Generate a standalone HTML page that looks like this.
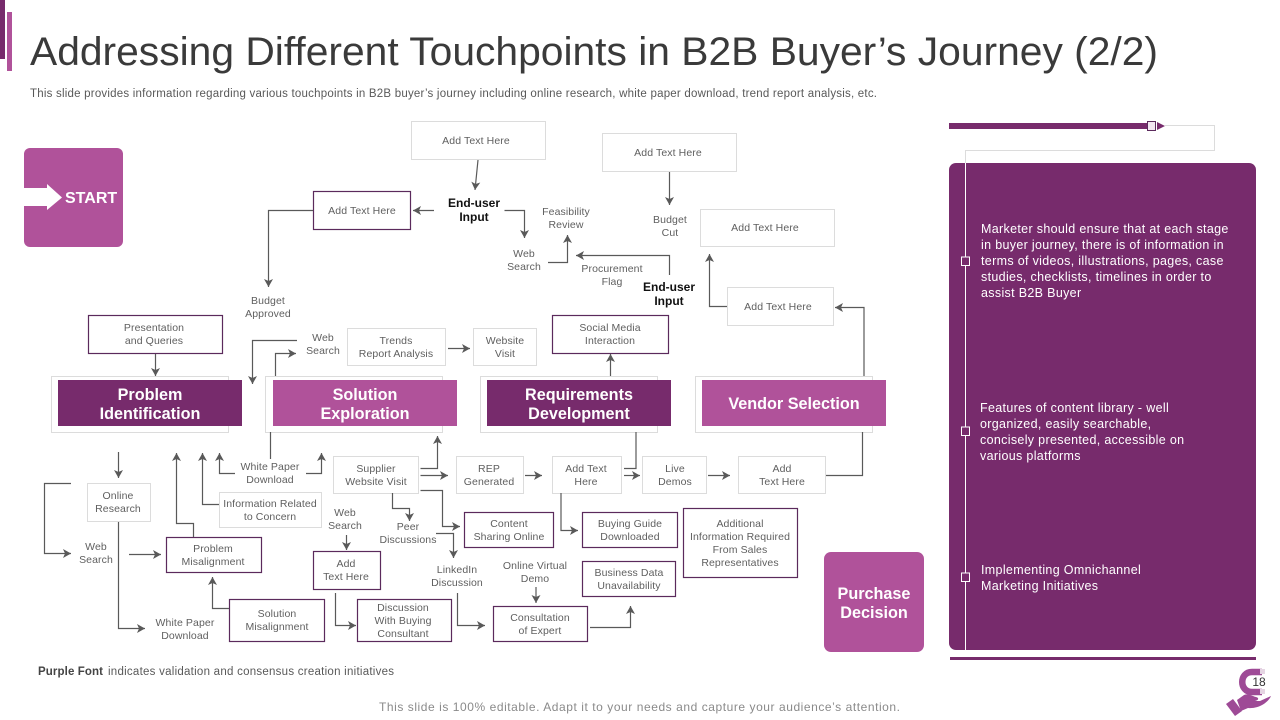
<!DOCTYPE html>
<html><head><meta charset="utf-8"><style>
html,body{margin:0;padding:0;background:#fff;width:1280px;height:720px;overflow:hidden}
svg{display:block;font-family:"Liberation Sans",sans-serif}
.t{font-size:10.5px;fill:#5f5f5f;text-anchor:middle;letter-spacing:.1px}
.b{font-size:12px;font-weight:bold;fill:#111;text-anchor:middle}
.h{font-size:16.2px;font-weight:bold;fill:#fff;text-anchor:middle}
.p{font-size:12.5px;fill:#fff;letter-spacing:.33px}
.g{fill:#fff;stroke:#dcdcdc;stroke-width:1}
.m{fill:#fff;stroke:#5b2a5c;stroke-width:1.2}
.l{fill:none;stroke:#595959;stroke-width:1.2}
.a{fill:none;stroke:#595959;stroke-width:1.2;marker-end:url(#ar)}
</style></head><body>
<svg width="1280" height="720" viewBox="0 0 1280 720" xmlns="http://www.w3.org/2000/svg">
<defs><marker id="ar" markerUnits="userSpaceOnUse" markerWidth="10" markerHeight="10" refX="9" refY="5" orient="auto"><path d="M1,0.5 L9,5 L1,9.5 L3,5 Z" fill="#595959"/></marker></defs>

<rect x="0" y="0" width="5" height="59" fill="#772b6c"/>
<rect x="7" y="12" width="5" height="59" fill="#b0529a"/>
<text x="30" y="65" font-size="40" fill="#3a3a3a" textLength="1128" lengthAdjust="spacingAndGlyphs">Addressing Different Touchpoints in B2B Buyer’s Journey (2/2)</text>
<text x="30" y="97" font-size="11.5" fill="#595959" textLength="847" lengthAdjust="spacing">This slide provides information regarding various touchpoints in B2B buyer’s journey including online research, white paper download, trend report analysis, etc.</text>

<!-- START -->
<rect x="24" y="148" width="99" height="99" rx="6" fill="#b0529a"/>
<path d="M24,188 H47 V184 L62,197.5 L47,210 V206 H24 Z" fill="#fff"/>
<text x="65" y="203" font-size="16" font-weight="bold" fill="#fff">START</text>

<!-- Stage boxes -->
<rect class="g" x="51.5" y="376.5" width="177" height="56"/>
<rect class="g" x="265.5" y="376.5" width="177" height="56"/>
<rect class="g" x="480.5" y="376.5" width="177" height="56"/>
<rect class="g" x="695.5" y="376.5" width="177" height="56"/>
<rect x="58" y="380" width="184" height="46" fill="#772b6c"/>
<rect x="273" y="380" width="184" height="46" fill="#b0529a"/>
<rect x="487" y="380" width="184" height="46" fill="#772b6c"/>
<rect x="702" y="380" width="184" height="46" fill="#b0529a"/>
<text class="h" x="150" y="400">Problem</text><text class="h" x="150" y="419">Identification</text>
<text class="h" x="365" y="400">Solution</text><text class="h" x="365" y="419">Exploration</text>
<text class="h" x="579" y="400">Requirements</text><text class="h" x="579" y="419">Development</text>
<text class="h" x="794" y="409">Vendor Selection</text>

<!-- Boxes: purple -->
<rect class="m" x="313.5" y="191.5" width="97" height="38"/>
<rect class="m" x="88.5" y="315.5" width="134" height="38"/>
<rect class="m" x="552.5" y="315.5" width="116" height="38"/>
<rect class="m" x="166.5" y="537.5" width="95" height="35"/>
<rect class="m" x="229.5" y="599.5" width="95" height="42"/>
<rect class="m" x="313.5" y="551.5" width="67" height="38"/>
<rect class="m" x="357.5" y="599.5" width="94" height="42"/>
<rect class="m" x="464.5" y="512.5" width="89" height="35"/>
<rect class="m" x="582.5" y="512.5" width="95" height="35"/>
<rect class="m" x="683.5" y="508.5" width="114" height="69"/>
<rect class="m" x="582.5" y="561.5" width="93" height="35"/>
<rect class="m" x="493.5" y="606.5" width="94" height="35"/>

<!-- Boxes: grey -->
<rect class="g" x="411.5" y="121.5" width="134" height="38"/>
<rect class="g" x="602.5" y="133.5" width="134" height="38"/>
<rect class="g" x="700.5" y="209.5" width="134" height="37"/>
<rect class="g" x="727.5" y="287.5" width="106" height="38"/>
<rect class="g" x="347.5" y="328.5" width="98" height="37"/>
<rect class="g" x="473.5" y="328.5" width="63" height="37"/>
<rect class="g" x="87.5" y="483.5" width="63" height="38"/>
<rect class="g" x="219.5" y="492.5" width="102" height="35"/>
<rect class="g" x="333.5" y="456.5" width="85" height="37"/>
<rect class="g" x="456.5" y="456.5" width="67" height="37"/>
<rect class="g" x="552.5" y="456.5" width="69" height="37"/>
<rect class="g" x="642.5" y="456.5" width="64" height="37"/>
<rect class="g" x="738.5" y="456.5" width="87" height="37"/>

<!-- Connectors -->
<path class="a" d="M313,210.5 H268.5 V287"/>
<path class="a" d="M155.5,354 V376"/>
<path class="a" d="M297,340.5 H252.5 V384"/>
<path class="a" d="M275.5,376 V353.5 H296"/>
<path class="a" d="M448,348.5 H470"/>
<path class="a" d="M610.5,376 V354"/>
<path class="a" d="M478,160 L475,190"/>
<path class="a" d="M434,210.5 H413"/>
<path class="a" d="M504.5,210.5 H524.5 V238"/>
<path class="a" d="M548,262.5 H567.5 V235"/>
<path class="a" d="M669.5,172 V205"/>
<path class="a" d="M669.5,275 V255.5 H576"/>
<path class="a" d="M727,306.5 H709.5 V254"/>
<path class="a" d="M864,376 V307.5 H835"/>
<path class="l" d="M826,475.5 H862.5 V432"/>
<path class="a" d="M118.5,452 V478"/>
<path class="a" d="M71,483.5 H44.5 V553.5 H71"/>
<path class="a" d="M129,554.5 H161"/>
<path class="a" d="M118.5,522 V628.5 H145"/>
<path class="a" d="M229,608.5 H212.5 V577"/>
<path class="a" d="M193.5,537 V523.5 H176.5 V453"/>
<path class="a" d="M219,504.5 H202.5 V453"/>
<path class="l" d="M270.5,432 V459"/>
<path class="a" d="M235,473.5 H219.5 V453"/>
<path class="a" d="M306,473.5 H321.5 V453"/>
<path class="a" d="M420.5,468.5 H437.5 V436"/>
<path class="a" d="M420.5,475.5 H448"/>
<path class="a" d="M420.5,490.5 H442.5 V526.5 H460"/>
<path class="a" d="M392.5,493 V508.5 H409.5 V521"/>
<path class="a" d="M436,533.5 H453.5 V558"/>
<path class="a" d="M346.5,535 V550"/>
<path class="a" d="M335.5,593 V625.5 H356"/>
<path class="a" d="M457.5,593 V625.5 H485"/>
<path class="a" d="M525,475.5 H542"/>
<path class="a" d="M624,475.5 H640"/>
<path class="l" d="M624,468.5 H636 V432"/>
<path class="a" d="M708,475.5 H730"/>
<path class="a" d="M561,493 V530.5 H578"/>
<path class="a" d="M536,587 V603"/>
<path class="a" d="M590,627.5 H630.5 V606"/>

<!-- Labels -->
<text class="t" x="362" y="214">Add Text Here</text>
<text class="t" x="476" y="144">Add Text Here</text>
<text class="t" x="668" y="156">Add Text Here</text>
<text class="t" x="765" y="231">Add Text Here</text>
<text class="t" x="778" y="310">Add Text Here</text>
<text class="b" x="474" y="207">End-user</text><text class="b" x="474" y="221">Input</text>
<text class="b" x="669" y="291">End-user</text><text class="b" x="669" y="305">Input</text>
<text class="t" x="566" y="215">Feasibility</text><text class="t" x="566" y="228">Review</text>
<text class="t" x="524" y="257">Web</text><text class="t" x="524" y="270">Search</text>
<text class="t" x="670" y="223">Budget</text><text class="t" x="670" y="236">Cut</text>
<text class="t" x="612" y="272">Procurement</text><text class="t" x="612" y="285">Flag</text>
<text class="t" x="268" y="304">Budget</text><text class="t" x="268" y="317">Approved</text>
<text class="t" x="154" y="331">Presentation</text><text class="t" x="154" y="344">and Queries</text>
<text class="t" x="323" y="341">Web</text><text class="t" x="323" y="354">Search</text>
<text class="t" x="396" y="344">Trends</text><text class="t" x="396" y="357">Report Analysis</text>
<text class="t" x="505" y="344">Website</text><text class="t" x="505" y="357">Visit</text>
<text class="t" x="610" y="331">Social Media</text><text class="t" x="610" y="344">Interaction</text>
<text class="t" x="118" y="499">Online</text><text class="t" x="118" y="512">Research</text>
<text class="t" x="96" y="550">Web</text><text class="t" x="96" y="563">Search</text>
<text class="t" x="213" y="552">Problem</text><text class="t" x="213" y="565">Misalignment</text>
<text class="t" x="185" y="626">White Paper</text><text class="t" x="185" y="639">Download</text>
<text class="t" x="277" y="617">Solution</text><text class="t" x="277" y="630">Misalignment</text>
<text class="t" x="270" y="470">White Paper</text><text class="t" x="270" y="483">Download</text>
<text class="t" x="270" y="507">Information Related</text><text class="t" x="270" y="520">to Concern</text>
<text class="t" x="376" y="472">Supplier</text><text class="t" x="376" y="485">Website Visit</text>
<text class="t" x="345" y="516">Web</text><text class="t" x="345" y="529">Search</text>
<text class="t" x="408" y="530">Peer</text><text class="t" x="408" y="543">Discussions</text>
<text class="t" x="346" y="567">Add</text><text class="t" x="346" y="580">Text Here</text>
<text class="t" x="403" y="611">Discussion</text><text class="t" x="403" y="624">With Buying</text><text class="t" x="403" y="637">Consultant</text>
<text class="t" x="457" y="573">LinkedIn</text><text class="t" x="457" y="586">Discussion</text>
<text class="t" x="489" y="472">REP</text><text class="t" x="489" y="485">Generated</text>
<text class="t" x="586" y="472">Add Text</text><text class="t" x="586" y="485">Here</text>
<text class="t" x="675" y="472">Live</text><text class="t" x="675" y="485">Demos</text>
<text class="t" x="782" y="472">Add</text><text class="t" x="782" y="485">Text Here</text>
<text class="t" x="509" y="527">Content</text><text class="t" x="509" y="540">Sharing Online</text>
<text class="t" x="630" y="527">Buying Guide</text><text class="t" x="630" y="540">Downloaded</text>
<text class="t" x="740" y="527">Additional</text><text class="t" x="740" y="540">Information Required</text><text class="t" x="740" y="553">From Sales</text><text class="t" x="740" y="566">Representatives</text>
<text class="t" x="535" y="569">Online Virtual</text><text class="t" x="535" y="582">Demo</text>
<text class="t" x="629" y="576">Business Data</text><text class="t" x="629" y="589">Unavailability</text>
<text class="t" x="540" y="621">Consultation</text><text class="t" x="540" y="634">of Expert</text>

<!-- Purchase -->
<rect x="824" y="552" width="100" height="100" rx="7" fill="#b0529a"/>
<text class="h" x="874" y="599">Purchase</text><text class="h" x="874" y="618">Decision</text>

<!-- Note -->
<text x="38" y="675" font-size="11.5" fill="#444" font-weight="bold" textLength="65" lengthAdjust="spacing">Purple Font</text>
<text x="108" y="675" font-size="11.5" fill="#595959" textLength="286" lengthAdjust="spacing">indicates validation and consensus creation initiatives</text>

<!-- Right panel -->
<rect x="949" y="123" width="201" height="6" fill="#772b6c"/>
<path d="M1157,122 L1165,126 L1157,130 Z" fill="#772b6c"/>
<rect x="949" y="163" width="307" height="487" rx="7" fill="#772b6c"/>
<rect x="950" y="657" width="306" height="3" fill="#772b6c"/>
<path d="M1165,125.5 H1214.5 V150.5 H965.5 V163" fill="none" stroke="#dcdcdc" stroke-width="1"/>
<path d="M965.5,163 V651" fill="none" stroke="#fff" stroke-width="1"/>
<rect x="1147.5" y="121.5" width="8" height="9" fill="#f3e6f1" stroke="#5b2a5c"/>
<rect x="961.5" y="257" width="8" height="8.5" fill="#772b6c" stroke="#fff"/>
<rect x="961.5" y="427" width="8" height="8.5" fill="#772b6c" stroke="#fff"/>
<rect x="961.5" y="573" width="8" height="8.5" fill="#772b6c" stroke="#fff"/>
<text class="p" x="981" y="233">Marketer should ensure that at each stage</text>
<text class="p" x="981" y="249">in buyer journey, there is of information  in</text>
<text class="p" x="981" y="265">terms of videos, illustrations, pages, case</text>
<text class="p" x="981" y="281">studies, checklists, timelines in order to</text>
<text class="p" x="981" y="297">assist B2B Buyer</text>
<text class="p" x="980" y="412">Features of content library - well</text>
<text class="p" x="980" y="428">organized, easily searchable,</text>
<text class="p" x="980" y="444">concisely presented, accessible on</text>
<text class="p" x="980" y="460">various  platforms</text>
<text class="p" x="981" y="574">Implementing Omnichannel</text>
<text class="p" x="981" y="590">Marketing Initiatives</text>

<!-- Footer -->
<text x="379" y="711" font-size="12" fill="#8a8a8a" textLength="521" lengthAdjust="spacing">This slide is 100% editable. Adapt it to your needs and capture your audience’s attention.</text>

<!-- Logo -->
<path d="M1262,672 H1252 C1239,672 1239,692 1252,692 H1262" fill="none" stroke="#9e4a96" stroke-width="6.5"/>
<rect x="1260" y="669" width="5" height="5" fill="#e5d5e3"/><rect x="1260" y="689" width="5" height="5" fill="#e5d5e3"/>
<path d="M1237,700 L1244,695 C1248,693 1252,696 1256,697 C1260,698 1258,701 1254,701 L1260,701 L1271,696 C1268,703 1258,709 1248,708 L1241,711 Z" fill="#9e4a96"/>
<path d="M1226,704 L1233,699 L1242,711 L1235,716 Z" fill="#9e4a96"/>
<text x="1259" y="686" font-size="12" fill="#333" text-anchor="middle">18</text>
</svg>
</body></html>
